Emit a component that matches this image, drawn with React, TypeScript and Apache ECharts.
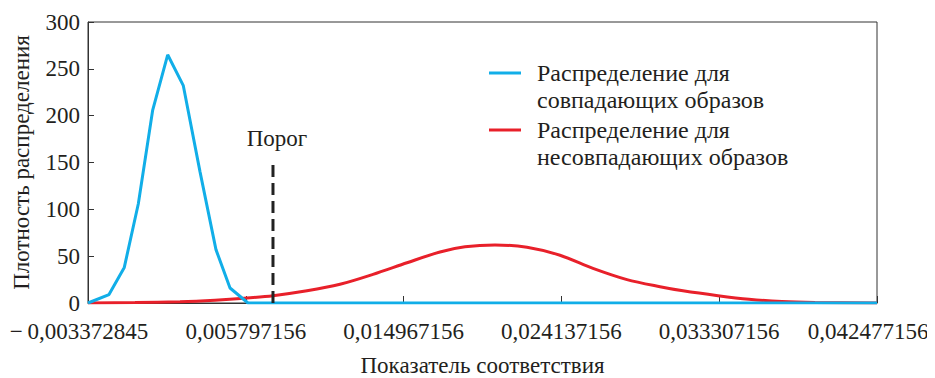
import React, { useEffect, useRef } from "react";
import * as echarts from "echarts";

const X_MIN = -0.003372845;
const X_STEP = 0.00917;
const xTickLabels = [
  "−\u20090,003372845",
  "0,005797156",
  "0,014967156",
  "0,024137156",
  "0,033307156",
  "0,042477156",
];
const yTicks = [0, 50, 100, 150, 200, 250, 300];
const xAxisName = "Показатель соответствия";
const yAxisName = "Плотность распределения";
const thresholdName = "Порог";

// Распределение для совпадающих образов (blue)
const matchX = [
  -0.003373, -0.002153, -0.001264, -0.000448, 0.000387, 0.001258, 0.002166,
  0.003138, 0.004064, 0.00488, 0.005925, 0.042477,
];
const matchY = [0, 9, 38, 106, 206, 265, 232, 140, 57, 16, 0, 0];

// Распределение для несовпадающих образов (red)
const nonMatchX = [
  -0.003373, -0.000642, 0.001973, 0.004007, 0.005692, 0.007377, 0.009353,
  0.011271, 0.013188, 0.015164, 0.017082, 0.018534, 0.020278, 0.022137,
  0.024055, 0.025972, 0.027948, 0.029866, 0.031202, 0.033236, 0.035037,
  0.036955, 0.038873, 0.042476,
];
const nonMatchY = [
  0, 0.5, 1.4, 3, 5, 7.8, 13, 20, 30.6, 43, 54.5, 60, 62, 59.5, 51, 37, 25,
  17.4, 13, 7.8, 4, 1.5, 0.5, 0,
];

const thresholdX = 0.007377;
const thresholdTop = 150;

const BLUE = "#11aee8";
const RED = "#e8202a";
const FONT = "Liberation Serif";
const TEXT = "#231f20";

const toU = (x: number) => (x - X_MIN) / X_STEP;

export default function App() {
  const ref = useRef<HTMLDivElement>(null);
  useEffect(() => {
    if (!ref.current) return;

    const baseOption: any = {
      animation: false,
      grid: {
        left: 80,
        right: 50,
        top: 14,
        bottom: 75,
        outerBoundsMode: "none",
        containLabel: false,
        show: true,
        borderColor: "#333",
        borderWidth: 1,
      },
      xAxis: {
        type: "value",
        min: 0,
        max: xTickLabels.length - 1,
        interval: 1,
        splitLine: { show: false },
        axisLine: { show: true, lineStyle: { color: "#333", width: 1 } },
        axisTick: { show: true, inside: true, length: 7, lineStyle: { color: "#333" } },
        axisLabel: { show: false },
      },
      yAxis: {
        type: "value",
        min: yTicks[0],
        max: yTicks[yTicks.length - 1],
        interval: 50,
        splitLine: { show: false },
        axisLine: { show: true, lineStyle: { color: "#333", width: 1 } },
        axisTick: { show: true, inside: true, length: 6, lineStyle: { color: "#333" } },
        axisLabel: { show: false },
      },
      series: [
        {
          name: "Распределение для несовпадающих образов",
          type: "line",
          data: nonMatchX.map((x, i) => [toU(x), nonMatchY[i]]),
          showSymbol: false,
          smooth: 0.3,
          lineStyle: { color: RED, width: 3 },
          z: 2,
        },
        {
          name: "Распределение для совпадающих образов",
          type: "line",
          data: matchX.map((x, i) => [toU(x), matchY[i]]),
          showSymbol: false,
          lineStyle: { color: BLUE, width: 3 },
          z: 3,
        },
        {
          name: thresholdName,
          type: "line",
          data: [
            [toU(thresholdX), 0],
            [toU(thresholdX), thresholdTop],
          ],
          showSymbol: false,
          lineStyle: { color: "#222", width: 3, type: [12, 6] },
          z: 4,
        },
      ],
    };

    // temporary instance to measure positions through the library's scales
    const tmp = echarts.init(ref.current, undefined, { renderer: "svg" });
    tmp.setOption(baseOption);
    const px = (x: number, y: number) =>
      tmp.convertToPixel({ gridIndex: 0 }, [x, y]) as number[];

    const txt = (
      text: string,
      x: number,
      y: number,
      size: number,
      styleExtra: any = {},
      rotation = 0
    ) => ({
      type: "text",
      x,
      y,
      rotation,
      style: {
        text,
        fontFamily: FONT,
        fontSize: size,
        fill: TEXT,
        align: "center",
        verticalAlign: "middle",
        ...styleExtra,
      },
    });

    const graphics: any[] = [];
    const legendItems = [
      { color: BLUE, lines: ["Распределение для", "совпадающих образов"], y: 65 },
      { color: RED, lines: ["Распределение для", "несовпадающих образов"], y: 122 },
    ];
    legendItems.forEach((it) => {
      graphics.push({
        type: "line",
        shape: { x1: 481, y1: it.y, x2: 513, y2: it.y },
        style: { stroke: it.color, lineWidth: 3 },
      });
      it.lines.forEach((t, i) => {
        graphics.push(txt(t, 529, it.y + i * 27, 24, { align: "left" }));
      });
    });

    const last = xTickLabels.length - 1;
    xTickLabels.forEach((lab, i) => {
      const [x, y] = px(i, 0);
      const shift = i === 0 ? -9 : i === last ? -9 : 0;
      graphics.push(txt(lab, x + shift, y + 17, 23, { verticalAlign: "top" }));
    });
    yTicks.forEach((v) => {
      const [x, y] = px(0, v);
      graphics.push(txt(String(v), x - 8, y, 23, { align: "right" }));
    });
    const [gx0, gy0] = px(0, yTicks[0]);
    const [gx1, gy1] = px(last, yTicks[yTicks.length - 1]);
    graphics.push(txt(xAxisName, (gx0 + gx1) / 2, gy0 + 62, 23));
    graphics.push(txt(yAxisName, gx0 - 67, (gy0 + gy1) / 2, 23, {}, Math.PI / 2));
    const [tx, ty] = px(toU(thresholdX), thresholdTop);
    graphics.push(txt(thresholdName, tx + 4, ty - 13, 23, { verticalAlign: "bottom" }));
    tmp.dispose();

    const chart = echarts.init(ref.current, undefined, { renderer: "svg" });
    chart.setOption({ ...baseOption, graphic: graphics });
    return () => chart.dispose();
  }, []);
  return <div ref={ref} style={{ width: 919, height: 370 }} />;
}
